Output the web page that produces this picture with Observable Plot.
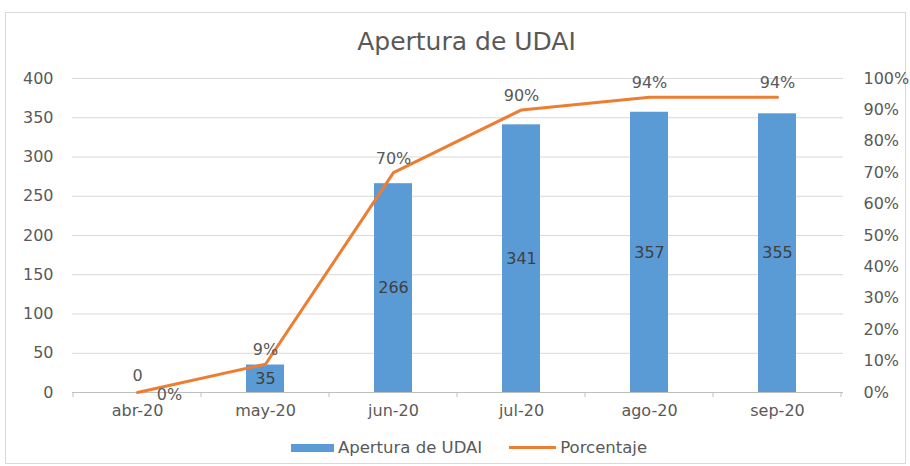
<!DOCTYPE html>
<html><head><meta charset="utf-8">
<script src="https://cdn.jsdelivr.net/npm/d3@7"></script>
<script src="https://cdn.jsdelivr.net/npm/@observablehq/plot@0.6"></script>
<style>
body{margin:0;background:#fff;font-family:"DejaVu Sans",sans-serif;}
#frame{position:absolute;left:5px;top:12px;width:901px;height:452px;border:1px solid #d9d9d9;box-sizing:border-box;}
#wrap{position:absolute;left:0;top:0;width:910px;}
#title{height:60px;box-sizing:border-box;padding-top:27px;padding-left:23px;text-align:center;font-size:25px;line-height:30px;color:#595959;}
#chart svg{display:block;}
#legend{height:41px;display:flex;justify-content:center;align-items:center;padding-left:28px;padding-top:4px;box-sizing:border-box;font-size:16.5px;color:#595959;}
.sw-bar{display:inline-block;width:43px;height:8px;background:#5B9BD5;margin-right:4px;}
.sw-line{display:inline-block;width:47px;height:3px;background:#ED7D31;margin-left:27px;margin-right:4px;}
</style>
</head><body>
<div id="frame"></div>
<div id="wrap">
  <div id="title">Apertura de UDAI</div>
  <div id="chart"></div>
  <div id="legend"><span class="sw-bar"></span><span>Apertura de UDAI</span><span class="sw-line"></span><span>Porcentaje</span></div>
</div>
<script>
const months = ["abr-20","may-20","jun-20","jul-20","ago-20","sep-20"];
const aperturas = [0, 35, 266, 341, 357, 355];
const porcentajes = [0, 9, 70, 90, 94, 94];
const leftTicks = [0, 50, 100, 150, 200, 250, 300, 350, 400];
const rightTicks = [0, 10, 20, 30, 40, 50, 60, 70, 80, 90, 100];

const rows = months.map((m, i) => ({month: m, n: aperturas[i], p: porcentajes[i]}));
const pctToY = p => p * 4; // 100% on the right axis ↔ 400 on the left axis

const axisText = "#595959";
const fs = 16;

// small category-boundary ticks under the baseline (Excel style)
function boundaryTicks(index, scales, values, dimensions) {
  const x = scales.x, y = scales.y;
  const bw = x.bandwidth ? x.bandwidth() : 0;
  const centers = months.map(m => x(m) + bw / 2);
  const step = centers[1] - centers[0];
  const y0 = y(0);
  const g = d3.create("svg:g");
  const bounds = [centers[0] - step / 2, ...centers.map(c => c + step / 2)];
  g.selectAll("line").data(bounds).join("line")
    .attr("x1", d => d).attr("x2", d => d)
    .attr("y1", y0).attr("y2", y0 + 5)
    .attr("stroke", "#bfbfbf");
  return g.node();
}

const chart = Plot.plot({
  width: 910,
  height: 365,
  marginTop: 18,
  marginBottom: 33,
  marginLeft: 72,
  marginRight: 67,
  style: {fontFamily: "'DejaVu Sans', sans-serif", fontSize: fs + "px", background: "transparent"},
  x: {type: "band", domain: months, paddingInner: 0.7, paddingOuter: 0.35, label: null},
  y: {domain: [0, 400], label: null},
  marks: [
    Plot.gridY(leftTicks.filter(d => d > 0), {stroke: "#d9d9d9", strokeOpacity: 1}),
    Plot.ruleY([0], {stroke: "#bfbfbf"}),
    Plot.axisY(leftTicks, {anchor: "left", tickSize: 0, tickPadding: 19, fontSize: fs, fill: axisText, label: null}),
    Plot.axisY(rightTicks.map(pctToY), {anchor: "right", tickSize: 0, tickPadding: 20, fontSize: fs, fill: axisText, label: null, textAnchor: "start", tickFormat: d => (d / 4) + "%"}),
    Plot.axisX({tickSize: 0, tickPadding: 12, fontSize: fs, fill: axisText, label: null}),
    boundaryTicks,
    Plot.barY(rows, {x: "month", y: "n", fill: "#5B9BD5"}),
    Plot.text(rows.filter(d => d.n > 0), {x: "month", y: d => d.n / 2, text: d => String(d.n), fill: "#404040", fontSize: fs}),
    Plot.text(rows.filter(d => d.n === 0), {x: "month", y: "n", dy: -17, text: d => String(d.n), fill: "#595959", fontSize: fs}),
    Plot.line(rows, {x: "month", y: d => pctToY(d.p), stroke: "#ED7D31", strokeWidth: 3, strokeLinejoin: "round"}),
    Plot.text(rows.filter(d => d.p > 0), {x: "month", y: d => pctToY(d.p), dy: -14, text: d => d.p + "%", fill: "#595959", fontSize: fs}),
    Plot.text(rows.filter(d => d.p === 0), {x: "month", y: d => pctToY(d.p), dx: 32, dy: 2, text: d => d.p + "%", fill: "#595959", fontSize: fs})
  ]
});
document.getElementById("chart").appendChild(chart);
</script>
</body></html>
